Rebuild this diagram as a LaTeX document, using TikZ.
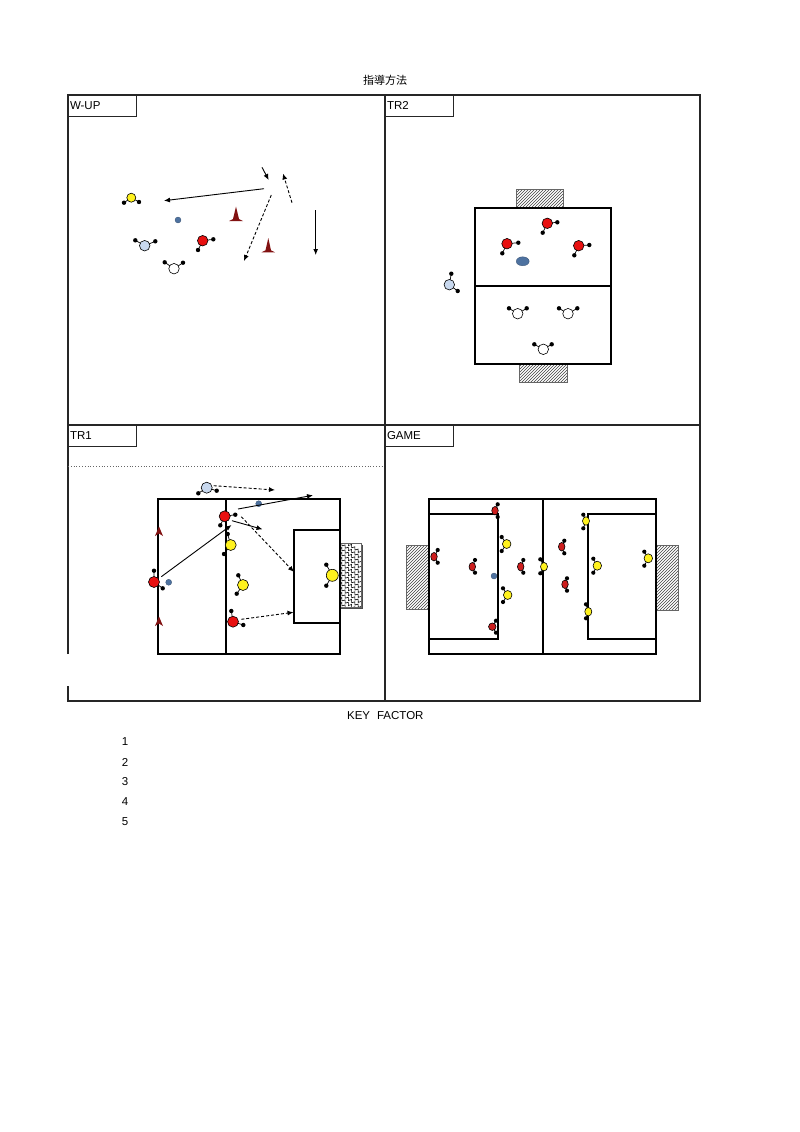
\documentclass[tikz,border=0pt]{standalone}
\usepackage{fontspec}
\setmainfont{Liberation Sans}
\newfontfamily\cjk{Noto Sans CJK JP}
\usetikzlibrary{arrows.meta,patterns,shapes.geometric,decorations.pathmorphing}
\definecolor{pred}{RGB}{232,16,16}
\definecolor{gred}{RGB}{205,30,30}
\definecolor{pyel}{RGB}{255,242,30}
\definecolor{plb}{RGB}{200,216,238}
\definecolor{pball}{RGB}{78,114,160}
\definecolor{conec}{RGB}{130,18,18}
\newcommand\plr[6]{%
  \draw[arm] #4 -- #5 #4 -- #6;
  \fill #5 circle (2.2) #6 circle (2.2);
  \node[pl,fill=#2,minimum size=#3pt] (#1) at #4 {};}
\newcommand\gplr[6]{%
  \draw[arm] #4 -- #5 #4 -- #6;
  \fill #5 circle (2.1) #6 circle (2.1);
  \node[pl,ellipse,fill=#2,#3] (#1) at #4 {};}
\begin{document}
\begin{tikzpicture}[x=1pt,y=-1pt,
  every node/.style={inner sep=0pt,outer sep=0pt},
  frame/.style={draw=black!85,line width=1.1pt},
  fld/.style={draw=black,line width=1.9pt},
  lbl/.style={draw=black!85,line width=1pt,minimum width=68pt,minimum height=21pt,
     text width=64pt,align=left,font=\fontsize{11.5}{12}\selectfont},
  txt/.style={font=\fontsize{11.5}{12}\selectfont},
  pl/.style={circle,draw=black,line width=0.6pt},
  arm/.style={line width=0.7pt},
  ballst/.style={circle,fill=pball,draw=pball!70!black,line width=0.3pt,minimum size=6pt},
  sol/.style={line width=0.9pt,-{Latex[length=6pt,width=5pt]}},
  dsh/.style={line width=0.9pt,dash pattern=on 3pt off 2pt,-{Latex[length=6pt,width=5pt]}},
  goalh/.style={draw=black!60,line width=0.8pt,pattern=north east lines,pattern color=black!75},
  netz/.style={line width=0.6pt,decorate,decoration={zigzag,segment length=4pt,amplitude=1.3pt}},
]
\useasboundingbox (0,0) rectangle (800,1132);
% ---------- title ----------
\node[font=\cjk\fontsize{11}{12}\selectfont] (title) at (385,80) {指導方法};
% ---------- frame ----------
\draw[frame] (68,654) -- (68,95) -- (700,95) -- (700,701) -- (68,701) -- (68,686);
\draw[frame] (385,95) -- (385,701);
\draw[frame] (68,425) -- (700,425);
\node[lbl,anchor=north west] (lwup) at (68,95) {W-UP};
\node[lbl,anchor=north west] (ltr2) at (385,95) {TR2};
\node[lbl,anchor=north west] (ltr1) at (68,425) {TR1};
\node[lbl,anchor=north west] (lgame) at (385,425) {GAME};
% ---------- W-UP ----------
\plr{wy}{pyel}{9}{(131.3,197.7)}{(124,202.7)}{(139,202)}
\plr{wlb}{plb}{10.5}{(144.7,245.7)}{(135.3,240.3)}{(155.3,241.3)}
\plr{wr}{pred}{10.5}{(202.7,240.7)}{(213.3,239.3)}{(198,250)}
\plr{ww}{white}{10.5}{(174,268.7)}{(164.7,262.3)}{(183,262.7)}
\node[ballst] (wball) at (178,220) {};
\fill[conec] (229,221) -- (233,219) -- (236,206.5) -- (239,219) -- (243,221) -- cycle;
\fill[conec] (261.5,252.3) -- (265.5,250.3) -- (268.3,238) -- (271,250.3) -- (275,252.3) -- cycle;
\coordinate (w1s) at (264,188.7); \coordinate (w1e) at (164,200.7);
\coordinate (w2s) at (262,167.3); \coordinate (w2e) at (268.7,180);
\coordinate (w3s) at (292,202.7); \coordinate (w3e) at (283,173.5);
\coordinate (w4s) at (271.3,195); \coordinate (w4e) at (244,261);
\coordinate (w5s) at (315.7,210); \coordinate (w5e) at (315.7,255);
\draw[sol] (w1s) -- (w1e);
\draw[sol] (w2s) -- (w2e);
\draw[dsh] (w3s) -- (w3e);
\draw[dsh] (w4s) -- (w4e);
\draw[sol] (w5s) -- (w5e);
% ---------- TR2 ----------
\draw[goalh] (516.7,189.3) rectangle (563.3,208.3);
\draw[goalh] (519.3,364) rectangle (567.7,382);
\draw[fld] (475,208.3) rectangle (610.7,364);
\draw[fld] (475,286) -- (610.7,286);
\plr{tr1}{pred}{10.5}{(547.3,223.3)}{(557.3,222.3)}{(542.7,232.7)}
\plr{tr2}{pred}{10.5}{(507,243.7)}{(518.3,242.7)}{(502.3,253.3)}
\plr{tr3}{pred}{10.5}{(578.7,245.7)}{(589.3,245)}{(574.3,255.3)}
\node[ellipse,fill=pball,draw=pball!70!black,line width=0.3pt,minimum width=13pt,minimum height=9pt] (tball) at (522.7,261.3) {};
\plr{tlb}{plb}{10.5}{(449.3,284.7)}{(451.3,273.7)}{(457.7,291)}
\plr{tw1}{white}{10.5}{(517.7,313.7)}{(509,308.3)}{(526.7,308.3)}
\plr{tw2}{white}{10.5}{(568,313.7)}{(559,308.3)}{(577.3,308.3)}
\plr{tw3}{white}{10.5}{(543.3,349.3)}{(534.3,344.3)}{(551.7,344.3)}
% ---------- TR1 ----------
\draw[black!60,line width=0.8pt,dotted] (68,466) -- (383,466);
\draw[black!70,line width=1.3pt] (362.7,544.5) -- (362.7,608.5) -- (341,608.5);
\begin{scope}
  \clip (339.7,543.3) rectangle (361.7,607.3);
  \foreach \yy in {545,550,...,610} {
    \draw[netz,rotate around={-35:(350,\yy)}] (330,\yy) -- (372,\yy);
  }
\end{scope}
\draw[draw=black!60,line width=0.8pt] (339.7,543.3) rectangle (361.7,607.3);
\draw[fld] (158.3,499) rectangle (339.7,654.3);
\draw[fld] (226.3,499) -- (226.3,654.3);
\draw[fld] (339.7,530) -- (294,530) -- (294,623.3) -- (339.7,623.3);
\fill[conec] (155,536) -- (159,526.5) -- (163,536) -- (159,533.5) -- cycle;
\fill[conec] (155,626) -- (159,616.5) -- (163,626) -- (159,623.5) -- cycle;
\plr{plb1}{plb}{11}{(206.7,487.7)}{(198.3,493.3)}{(216.7,490.7)}
\node[ballst] (pball1) at (258.7,503.7) {};
\plr{pr1}{pred}{11}{(224.7,516.3)}{(235.3,514.7)}{(220.3,525.3)}
\plr{py1}{pyel}{11}{(230.7,545)}{(227.7,534)}{(224,554)}
\plr{pr2}{pred}{11}{(154,582)}{(154,570.7)}{(162.7,588.3)}
\node[ballst] (pball2) at (168.7,582.3) {};
\plr{py2}{pyel}{11}{(243,585)}{(238.3,575.3)}{(236.7,593.7)}
\plr{pr3}{pred}{11}{(233,621.7)}{(231.3,611)}{(243.3,625)}
\plr{pgk}{pyel}{12}{(332.3,575.3)}{(326.3,564.7)}{(326.3,585.7)}
\coordinate (p1e) at (275,490);
\coordinate (p2s) at (238,509); \coordinate (p2e) at (313,495.3);
\coordinate (p3s) at (232,520.7); \coordinate (p3e) at (262.5,529.3);
\coordinate (p4s) at (241.3,516.7); \coordinate (p4e) at (294,572);
\coordinate (p5s) at (161.3,576.7); \coordinate (p5e) at (231.5,525);
\coordinate (p6s) at (241.3,619.3); \coordinate (p6e) at (293.5,612.3);
\draw[dsh] (plb1.east) ++(1.5,-2) -- (p1e);
\draw[sol] (p2s) -- (p2e);
\draw[sol] (p3s) -- (p3e);
\draw[dsh] (p4s) -- (p4e);
\draw[sol] (p5s) -- (p5e);
\draw[dsh] (p6s) -- (p6e);
% ---------- GAME ----------
\draw[goalh] (406,545) rectangle (429.3,609.3);
\draw[goalh] (655.7,545.7) rectangle (678.3,610);
\draw[fld] (429.3,499) rectangle (655.7,654.3);
\draw[fld] (542.7,499) -- (542.7,654.3);
\draw[fld] (429.3,514.3) -- (497.7,514.3) -- (497.7,639) -- (429.3,639);
\draw[fld] (655.7,514.3) -- (587.7,514.3) -- (587.7,639) -- (655.7,639);
\node[ballst] (gball) at (494,576) {};
\gplr{gr1}{gred}{minimum width=6.5pt,minimum height=8.5pt}{(495,510.7)}{(497.7,504.3)}{(497.7,517)}
\gplr{gr2}{gred}{minimum width=6.5pt,minimum height=8.5pt}{(434,556.7)}{(437.7,550)}{(437.7,562.7)}
\gplr{gr3}{gred}{minimum width=6.5pt,minimum height=8.5pt}{(472.3,566.7)}{(475,560)}{(475,572.7)}
\gplr{gr4}{gred}{minimum width=6.5pt,minimum height=8.5pt}{(520.7,566.7)}{(523.3,560)}{(523.3,572.7)}
\gplr{gr5}{gred}{minimum width=7.5pt,minimum height=7.5pt}{(492.3,626.7)}{(496,620.7)}{(496,632.7)}
\gplr{gr6}{gred}{minimum width=6.5pt,minimum height=8.5pt}{(561.7,546.7)}{(564.3,540.7)}{(564.3,553.3)}
\gplr{gr7}{gred}{minimum width=6.5pt,minimum height=8.5pt}{(565,584.3)}{(567,578.3)}{(567,590.7)}
\gplr{gy1}{pyel}{minimum width=8.5pt,minimum height=9pt}{(506.7,544)}{(501.7,537)}{(501.7,551)}
\gplr{gy2}{pyel}{minimum width=8.5pt,minimum height=9pt}{(507.7,595)}{(503,588.3)}{(503,602)}
\gplr{gy3}{pyel}{minimum width=7pt,minimum height=8.5pt}{(544,566.7)}{(540.3,559.3)}{(540.3,573.3)}
\gplr{gy4}{pyel}{minimum width=7pt,minimum height=8.5pt}{(586,521)}{(583.3,514.7)}{(583.3,528.3)}
\gplr{gy5}{pyel}{minimum width=8.5pt,minimum height=9pt}{(597.3,565.7)}{(593.3,558.7)}{(593.3,572.7)}
\gplr{gy6}{pyel}{minimum width=7pt,minimum height=8.5pt}{(588.3,611.7)}{(586,604.3)}{(586,618.3)}
\gplr{gy7}{pyel}{minimum width=8.5pt,minimum height=9pt}{(648.3,558.3)}{(644.3,551.7)}{(644.3,565.7)}
% ---------- key factor ----------
\node[txt] (kf) at (385.3,716) {KEY\hspace{7pt}FACTOR};
\node[txt] (k1) at (125,742) {1};
\node[txt] (k2) at (125,762) {2};
\node[txt] (k3) at (125,782) {3};
\node[txt] (k4) at (125,802) {4};
\node[txt] (k5) at (125,822) {5};
\end{tikzpicture}
\end{document}
